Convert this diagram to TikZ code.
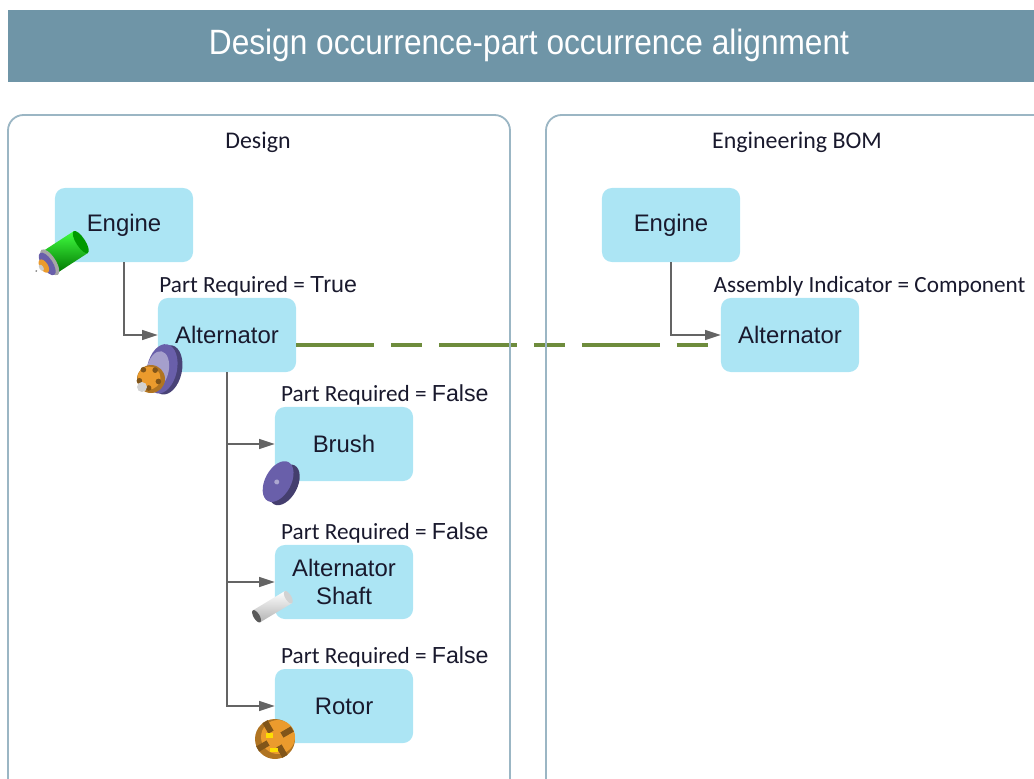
\documentclass[tikz,border=0pt]{standalone}
\usepackage{fontspec}
\setmainfont{Liberation Sans}
\newfontfamily\calfont{Carlito}
\usepackage{xcolor}
\usetikzlibrary{arrows.meta,positioning}

\definecolor{barblue}{RGB}{111,149,167}
\definecolor{partblue}{RGB}{172,229,244}
\definecolor{framegray}{RGB}{155,182,196}
\definecolor{linkgreen}{RGB}{110,140,60}
\definecolor{treegray}{RGB}{100,100,100}
\definecolor{inkdark}{RGB}{25,25,45}
\definecolor{discpurple}{RGB}{105,95,170}
\definecolor{gearorange}{RGB}{235,155,45}

\begin{document}
\begin{tikzpicture}[x=0.025cm,y=-0.025cm,
	part/.style={fill=partblue,rounded corners=7pt,minimum width=3.45cm,minimum height=1.85cm,
		text=inkdark,font=\fontsize{17}{20}\selectfont,align=center,inner sep=2pt},
	tag/.style={anchor=south west,inner sep=1pt,text=inkdark,font=\calfont\fontsize{16.5}{18}\selectfont},
	head/.style={text=inkdark,font=\calfont\fontsize{17}{19}\selectfont},
	tree/.style={draw=treegray,line width=1pt,-{Triangle[length=11pt,width=7pt]}},
	link/.style={draw=linkgreen,line width=2.6pt,dash pattern=on 55.5pt off 12pt on 22pt off 12pt},
	panel/.style={draw=framegray,line width=1.3pt,rounded corners=11pt}]
	\useasboundingbox (0,0) rectangle (1034,778);
	\clip (0,0) rectangle (1034,778);

	% title bar
	\fill[barblue] (8,10) rectangle (1040,82);
	\node[text=white,font=\fontsize{25}{30}\selectfont] (title) at (529,45) {\scalebox{0.9}[1]{Design occurrence-part occurrence alignment}};

	% design structure
	\node[part] (engL) at (124,225) {Engine};
	\node[part] (altL) at (227,335) {Alternator};
	\node[part] (brush) at (344,444) {Brush};
	\node[part] (shaft) at (344,582) {Alternator\\Shaft};
	\node[part] (rotor) at (344,706) {Rotor};

	\node[tag] (altLtag) at (altL.north west) {Part Required = {\normalfont True}};
	\node[tag] (brushtag) at ([xshift=0.12cm]brush.north west) {Part Required = {\normalfont False}};
	\node[tag] (shafttag) at ([xshift=0.12cm]shaft.north west) {Part Required = {\normalfont False}};
	\node[tag] (rotortag) at ([xshift=0.12cm]rotor.north west) {Part Required = {\normalfont False}};

	\draw[tree] (engL.south) |- (altL.west);
	\draw[tree] (altL.south) |- (brush.west);
	\draw[tree] (altL.south) |- (shaft.west);
	\draw[tree] (altL.south) |- (rotor.west);

	% engineering BOM structure
	\node[part] (engR) at (671,225) {Engine};
	\node[part] (altR) at (790,335) {Alternator};
	\node[tag] (altRtag) at ([xshift=-0.22cm]altR.north west) {Assembly Indicator = Component};
	\draw[tree] (engR.south) |- (altR.west);

	% alignment between the two alternators
	\coordinate (alignA) at ([yshift=-0.25cm]altL.east);
	\coordinate (alignB) at ([xshift=-0.3cm,yshift=-0.25cm]altR.west);
	\draw[link] (alignA) -- (alignB);

	% the two panels
	\draw[panel] (8,800) |- (510,115) -- (510,800);
	\draw[panel] (546,800) |- (1060,115);
	\node[head] (design) at (258,142) {Design};
	\node[head] (ebom) at (797,142) {Engineering BOM};

	% part pictures
	% engine
	\begin{scope}[rotate around={33:(64,253)}]
		\shade[top color=green!75,bottom color=green!45!black] (46,240) rectangle (84,266);
		\fill[green!60!black] (84,253) ellipse (4.5 and 13);
		\fill[gray!70] (47,253) ellipse (6 and 15);
		\fill[discpurple] (44,253) ellipse (5.5 and 13);
		\fill[gearorange] (40,253) ellipse (4 and 7.5);
		\fill[gray!40] (37,253) ellipse (2 and 3.5);
		\fill[gray] (31,253) circle (1);
	\end{scope}
	% alternator
	\begin{scope}[rotate around={-12:(163,369)}]
		\fill[discpurple!70!black] (167,369) ellipse (15 and 25);
		\fill[discpurple] (162,369) ellipse (15 and 25);
		\fill[discpurple!60] (158,371) ellipse (11 and 19);
	\end{scope}
	\fill[gearorange!75!black] (151,379) circle (14);
	\fill[gearorange] (149,378) circle (11.5);
	\foreach \a in {20,92,...,308}
		\fill[gearorange!55!black] (149,378) ++(\a:10) circle (2.8);
	\fill[gray!35] (142,387) circle (5);
	% brush
	\begin{scope}[rotate around={-28:(279,482)}]
		\fill[discpurple!65!black] (285,482) ellipse (13 and 22);
		\fill[discpurple] (278,482) ellipse (13 and 22);
		\fill[discpurple!55] (277,483) circle (2.5);
	\end{scope}
	% shaft
	\begin{scope}[rotate around={31:(272,607)}]
		\shade[top color=white,bottom color=gray!60] (254,600) rectangle (291,614);
		\fill[gray!35] (291,607) ellipse (3 and 7);
		\fill[gray!70!black] (254,607) ellipse (3 and 7);
	\end{scope}
	% rotor
	\fill[gearorange!75!black] (275,739) circle (20);
	\fill[gearorange] (278,737) circle (17);
	\foreach \a in {30,120,210,300}
		\fill[gearorange!55!black,rotate around={\a:(275,739)}] (283,736) rectangle (295,742);
	\fill[yellow!80!orange] (266,733) rectangle (273,738);
	\fill[yellow!80!orange] (270,748) rectangle (278,752);
\end{tikzpicture}
\end{document}
